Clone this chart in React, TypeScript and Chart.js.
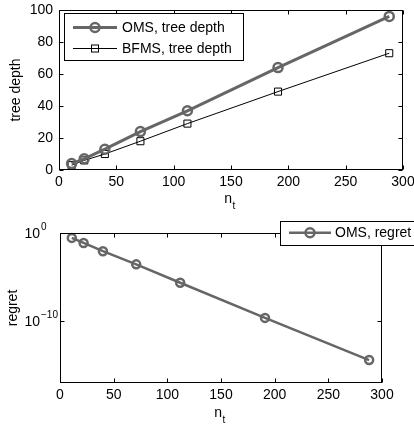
import React, { useEffect, useRef } from "react";
import { Chart, registerables } from "chart.js";

Chart.register(...registerables);

// ---- data ----
const nT = [11, 22, 40, 71, 112, 191, 288];
const omsDepth = [4, 7, 13, 24, 37, 64, 96];
const bfmsDepth = [3, 6, 10, 18, 29, 49, 73];
const omsRegret = [0.28, 0.074, 8.7e-3, 2.8e-4, 2.3e-6, 2.4e-10, 4e-15];
const xTickValues = [0, 50, 100, 150, 200, 250, 300];
const depthTickValues = [0, 20, 40, 60, 80, 100];
const regretTickExponents = [0, -10];
const topLegendLabels = ["OMS, tree depth", "BFMS, tree depth"];
const bottomLegendLabels = ["OMS, regret"];
const yLabelTop = "tree depth";
const yLabelBottom = "regret";

const FONT = "'Liberation Sans', Arial, Helvetica, sans-serif";
const GRAY = "#666666";

type LegendItem = { label: string; color: string; lineWidth: number; marker: "circle" | "square" };

function framePlugin(cfg: {
  yTitle: string;
  yTitleX: number;
  nBaseline: number;
  legendBox: { x: number; y: number; w: number; h: number };
  legendItems: LegendItem[];
  legendRowY: number[];
  legendLineX: [number, number];
  legendTextX: number;
  logLabels?: boolean;
}) {
  return {
    id: "frame",
    afterDatasetsDraw(chart: any) {
      const ctx: CanvasRenderingContext2D = chart.ctx;
      const a = chart.chartArea;
      const xs = chart.scales.x;
      const ys = chart.scales.y;
      ctx.save();
      ctx.strokeStyle = "#000";
      ctx.lineWidth = 1;
      const L = Math.round(a.left) + 0.5;
      const R = Math.round(a.right) - 0.5;
      const T = Math.round(a.top) + 0.5;
      const B = Math.round(a.bottom) - 0.5;
      ctx.strokeRect(L, T, R - L, B - T);
      const tl = 4;
      ctx.beginPath();
      for (const t of xs.ticks) {
        const px = Math.round(xs.getPixelForValue(t.value)) + 0.5;
        ctx.moveTo(px, B);
        ctx.lineTo(px, B - tl);
        ctx.moveTo(px, T);
        ctx.lineTo(px, T + tl);
      }
      for (const t of ys.ticks) {
        const py = Math.round(ys.getPixelForValue(t.value)) + 0.5;
        ctx.moveTo(L, py);
        ctx.lineTo(L + tl, py);
        ctx.moveTo(R, py);
        ctx.lineTo(R - tl, py);
      }
      ctx.stroke();

      ctx.fillStyle = "#000";
      // log tick labels
      if (cfg.logLabels) {
        for (const e of regretTickExponents) {
          const py = ys.getPixelForValue(Math.pow(10, e));
          ctx.font = `14px ${FONT}`;
          ctx.textAlign = "right";
          ctx.textBaseline = "middle";
          ctx.fillText("10", a.left - 20, py + 1);
          ctx.font = `10px ${FONT}`;
          ctx.textAlign = "left";
          ctx.fillText(e === 0 ? "0" : "\u2212" + String(-e), a.left - 19, py - 6);
        }
      }

      // y title
      ctx.save();
      ctx.font = `14px ${FONT}`;
      ctx.translate(cfg.yTitleX, (a.top + a.bottom) / 2);
      ctx.rotate(-Math.PI / 2);
      ctx.textAlign = "center";
      ctx.textBaseline = "middle";
      ctx.fillText(cfg.yTitle, 0, 0);
      ctx.restore();

      // x title n_t
      const cx = (a.left + a.right) / 2;
      ctx.font = `14px ${FONT}`;
      ctx.textAlign = "right";
      ctx.textBaseline = "alphabetic";
      ctx.fillText("n", cx + 1, cfg.nBaseline);
      ctx.font = `10px ${FONT}`;
      ctx.textAlign = "left";
      ctx.fillText("t", cx + 1.5, cfg.nBaseline + 6);

      // legend
      const lb = cfg.legendBox;
      ctx.fillStyle = "#fff";
      ctx.fillRect(lb.x, lb.y, lb.w, lb.h);
      ctx.strokeStyle = "#000";
      ctx.lineWidth = 1;
      ctx.strokeRect(lb.x + 0.5, lb.y + 0.5, lb.w, lb.h);
      cfg.legendItems.forEach((it, i) => {
        const y = cfg.legendRowY[i];
        const [x0, x1] = cfg.legendLineX;
        const mx = (x0 + x1) / 2;
        ctx.strokeStyle = it.color;
        ctx.lineWidth = it.lineWidth;
        ctx.beginPath();
        ctx.moveTo(x0, y);
        ctx.lineTo(x1, y);
        ctx.stroke();
        if (it.marker === "circle") {
          ctx.lineWidth = 2.5;
          ctx.beginPath();
          ctx.arc(mx, y, 4.5, 0, Math.PI * 2);
          ctx.stroke();
        } else {
          ctx.lineWidth = 1;
          ctx.strokeRect(mx - 3.5, y - 3.5, 7, 7);
        }
        ctx.fillStyle = "#000";
        ctx.font = `14px ${FONT}`;
        ctx.textAlign = "left";
        ctx.textBaseline = "middle";
        ctx.fillText(it.label, cfg.legendTextX, y + 0.5);
      });
      ctx.restore();
    },
  };
}

export default function App() {
  const topRef = useRef<HTMLCanvasElement>(null);
  const botRef = useRef<HTMLCanvasElement>(null);

  useEffect(() => {
    Chart.defaults.font.family = FONT;
    Chart.defaults.font.size = 14;
    Chart.defaults.color = "#000";

    const xAxis = (height: number) => ({
      type: "linear" as const,
      min: 0,
      max: 300,
      afterBuildTicks: (s: any) => {
        s.ticks = xTickValues.map((v) => ({ value: v }));
      },
      grid: { display: false, drawTicks: false },
      border: { display: false },
      ticks: { padding: 4, maxRotation: 0, autoSkip: false, font: { size: 14 }, color: "#000" },
      afterFit: (s: any) => {
        s.height = height;
        s.paddingLeft = 0;
        s.paddingRight = 0;
      },
    });

    const c1 = new Chart(topRef.current!, {
      type: "line",
      data: {
        datasets: [
          {
            label: topLegendLabels[0],
            data: nT.map((x, i) => ({ x, y: omsDepth[i] })),
            borderColor: GRAY,
            borderWidth: 3,
            pointStyle: "circle",
            pointRadius: 4.5,
            pointBorderWidth: 2.5,
            pointBorderColor: GRAY,
            pointBackgroundColor: "rgba(0,0,0,0)",
            clip: false as any,
          },
          {
            label: topLegendLabels[1],
            data: nT.map((x, i) => ({ x, y: bfmsDepth[i] })),
            borderColor: "#000",
            borderWidth: 1,
            pointStyle: "rect",
            pointRadius: 5,
            pointBorderWidth: 1,
            pointBorderColor: "#000",
            pointBackgroundColor: "rgba(0,0,0,0)",
            clip: false as any,
          },
        ],
      },
      options: {
        responsive: false,
        devicePixelRatio: 1,
        animation: false,
        events: [],
        layout: { padding: { top: 10, right: 11, left: 0, bottom: 0 } },
        plugins: { legend: { display: false }, tooltip: { enabled: false } },
        scales: {
          x: xAxis(40) as any,
          y: {
            type: "linear",
            min: 0,
            max: 100,
            afterBuildTicks: (s: any) => {
              s.ticks = depthTickValues.map((v) => ({ value: v }));
            },
            grid: { display: false, drawTicks: false },
            border: { display: false },
            ticks: { padding: 6, font: { size: 14 }, color: "#000" },
            afterFit: (s: any) => {
              s.width = 59;
              s.paddingTop = 0;
              s.paddingBottom = 0;
            },
          },
        },
      },
      plugins: [
        framePlugin({
          yTitle: yLabelTop,
          yTitleX: 16,
          nBaseline: 203,
          legendBox: { x: 64, y: 13, w: 179, h: 47 },
          legendItems: [
            { label: topLegendLabels[0], color: GRAY, lineWidth: 3, marker: "circle" },
            { label: topLegendLabels[1], color: "#000", lineWidth: 1, marker: "square" },
          ],
          legendRowY: [27.5, 48.5],
          legendLineX: [73, 117],
          legendTextX: 122,
        }) as any,
      ],
    });

    const c2 = new Chart(botRef.current!, {
      type: "line",
      data: {
        datasets: [
          {
            label: bottomLegendLabels[0],
            data: nT.map((x, i) => ({ x, y: omsRegret[i] })),
            borderColor: GRAY,
            borderWidth: 2.5,
            pointStyle: "circle",
            pointRadius: 4,
            pointBorderWidth: 2.5,
            pointBorderColor: GRAY,
            pointBackgroundColor: "rgba(0,0,0,0)",
            clip: false as any,
          },
        ],
      },
      options: {
        responsive: false,
        devicePixelRatio: 1,
        animation: false,
        events: [],
        layout: { padding: { top: 23, right: 32, left: 0, bottom: 0 } },
        plugins: { legend: { display: false }, tooltip: { enabled: false } },
        scales: {
          x: xAxis(44) as any,
          y: {
            type: "logarithmic",
            min: 1e-17,
            max: 1,
            afterBuildTicks: (s: any) => {
              s.ticks = regretTickExponents.map((e) => ({ value: Math.pow(10, e) }));
            },
            grid: { display: false, drawTicks: false },
            border: { display: false },
            ticks: { display: false },
            afterFit: (s: any) => {
              s.width = 60;
              s.paddingTop = 0;
              s.paddingBottom = 0;
            },
          },
        },
      },
      plugins: [
        framePlugin({
          yTitle: yLabelBottom,
          yTitleX: 13,
          nBaseline: 207,
          legendBox: { x: 280, y: 11, w: 140, h: 24 },
          legendItems: [{ label: bottomLegendLabels[0], color: GRAY, lineWidth: 2.5, marker: "circle" }],
          legendRowY: [22.7],
          legendLineX: [289, 331],
          legendTextX: 335,
          logLabels: true,
        }) as any,
      ],
    });

    return () => {
      c1.destroy();
      c2.destroy();
    };
  }, []);

  return (
    <div style={{ position: "fixed", left: 0, top: 0, width: 414, height: 427, background: "#fff" }}>
      <canvas ref={topRef} width={414} height={210} style={{ position: "absolute", left: 0, top: 0, width: 414, height: 210 }} />
      <canvas ref={botRef} width={414} height={217} style={{ position: "absolute", left: 0, top: 210, width: 414, height: 217 }} />
    </div>
  );
}
